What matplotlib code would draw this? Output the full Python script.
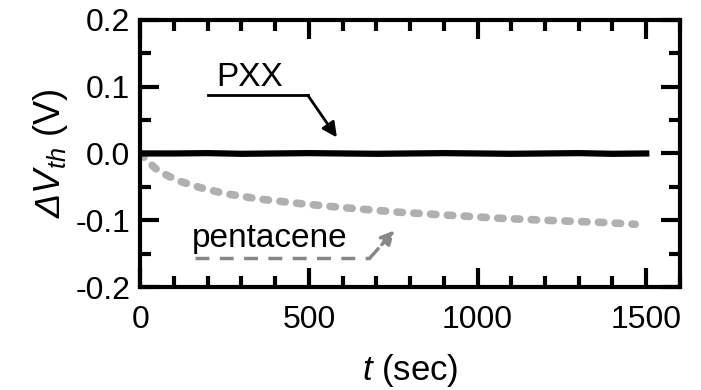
import matplotlib
matplotlib.use("Agg")
import matplotlib.pyplot as plt
from matplotlib.ticker import MultipleLocator

plt.rcParams['font.family'] = ['Liberation Sans', 'DejaVu Sans']
plt.rcParams['mathtext.fontset'] = 'custom'
plt.rcParams['mathtext.it'] = 'Liberation Sans:italic'
# Greek capitals fall back to the rm font in mathtext; make that italic too
plt.rcParams['mathtext.rm'] = 'Liberation Sans:italic'

# threshold voltage shift vs. bias stress time
t_pxx = [0, 100, 200, 300, 400, 500, 600, 700, 800, 900, 1000, 1100, 1200, 1300, 1400, 1500]
dv_pxx = [0.0, 0.0, 0.0005, -0.0005, 0.0, 0.0005, 0.0, -0.0005, 0.0, 0.0005, 0.0, -0.0005, 0.0, 0.0005, -0.0005, 0.0]

t_pen = [0, 20, 44, 80, 120, 177, 250, 350, 473, 600, 769, 900, 1065, 1200, 1361, 1467]
dv_pen = [0.0, -0.010, -0.022, -0.033, -0.042, -0.051, -0.060, -0.068, -0.075, -0.081, -0.088, -0.092, -0.097, -0.100, -0.103, -0.106]

fig = plt.figure(figsize=(7.01, 3.9), dpi=100)
ax = fig.add_axes([0.2, 0.264, 0.77, 0.685])

ax.plot(t_pen, dv_pen, color='#b0b0b0', lw=5.5, ls=(0, (0.7, 1.5)), dash_capstyle='round')
ax.plot(t_pxx, dv_pxx, color='black', lw=4.5)

ax.set_xlim(0, 1600)
ax.set_ylim(-0.2, 0.2)
ax.xaxis.set_minor_locator(MultipleLocator(100))
ax.yaxis.set_minor_locator(MultipleLocator(0.05))
ax.set_xticks([0, 500, 1000, 1500])
ax.set_yticks([-0.2, -0.1, 0.0, 0.1, 0.2])
ax.set_yticklabels(['-0.2', '-0.1', '0.0', '0.1', '0.2'])

for s in ax.spines.values():
    s.set_linewidth(3)
ax.tick_params(which='both', direction='in', top=True, right=True, labelsize=23, width=3, pad=7)
ax.tick_params(axis='x', which='both', pad=13)
ax.tick_params(which='major', length=14)
ax.tick_params(which='minor', length=8)

ax.set_xlabel(r'$t$ (sec)', fontsize=25, labelpad=12)
ax.set_ylabel(r'$\Delta V_{th}$ (V)', fontsize=26, labelpad=4)

# PXX label with bent arrow
ax.text(325, 0.114, 'PXX', fontsize=24, ha='center', va='center')
ax.plot([201, 497], [0.087, 0.087], color='black', lw=2)
ax.annotate('', xy=(583, 0.024), xytext=(497, 0.087),
            arrowprops=dict(arrowstyle='-|>', color='black', lw=2, mutation_scale=22, shrinkA=0, shrinkB=0))

# pentacene label with dashed bent arrow
ax.text(385, -0.127, 'pentacene', fontsize=24, ha='center', va='center')
ax.plot([163, 680], [-0.157, -0.157], color='#888888', lw=2.5, ls=(0, (4, 3)))
ax.annotate('', xy=(754, -0.115), xytext=(680, -0.157),
            arrowprops=dict(arrowstyle='-|>', color='#888888', lw=2.5, ls='--', mutation_scale=20, shrinkA=0, shrinkB=0))

fig.savefig('out.png', dpi=100)
